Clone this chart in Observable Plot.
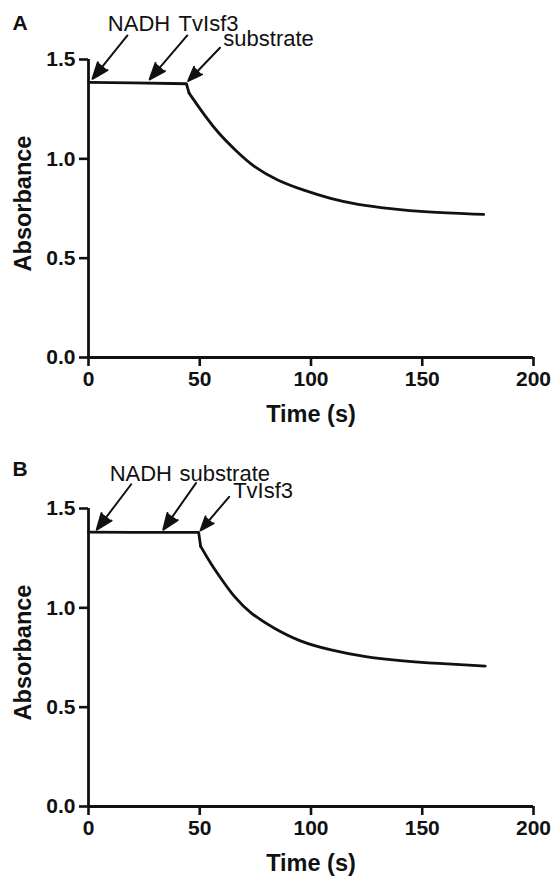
<!DOCTYPE html>
<html>
<head>
<meta charset="utf-8">
<script src="https://cdn.jsdelivr.net/npm/d3@7"></script>
<script src="https://cdn.jsdelivr.net/npm/@observablehq/plot@0.6"></script>
<style>
  html, body { margin: 0; padding: 0; background: #fff; }
  #chart { width: 554px; }
  #chart svg { display: block; }
</style>
</head>
<body>
<div id="chart"></div>
<script>
// ---- Data ----
const xTicks = [0, 50, 100, 150, 200];
const yTicks = [0, 0.5, 1.0, 1.5];

// Panel A: NADH, TvIsf3, then substrate
const timeA = [0, 20, 44, 45.2, 52.7, 58.6, 66.1, 74.3, 84.8, 96.8, 108.8, 120.7, 135.7, 150.6, 177.6];
const absA  = [1.385, 1.382, 1.378, 1.331, 1.210, 1.126, 1.042, 0.958, 0.891, 0.841, 0.799, 0.770, 0.749, 0.732, 0.720];
const dropIndexA = 3;

// Panel B: NADH, substrate, then TvIsf3
const timeB = [0, 20, 49.5, 50.4, 54.9, 60.1, 65.4, 72.8, 83.3, 95.3, 108.8, 123.7, 140.2, 156.6, 178.3];
const absB  = [1.381, 1.380, 1.380, 1.310, 1.223, 1.139, 1.055, 0.971, 0.896, 0.828, 0.787, 0.753, 0.733, 0.720, 0.707];
const dropIndexB = 3;

// Annotation labels (text, anchor time, anchor absorbance)
const labelTextA = ["NADH", "TvIsf3", "substrate"];
const labelTimeA = [8.7, 40.5, 60.6];
const labelAbsA  = [1.641, 1.641, 1.566];
const labelTextB = ["NADH", "substrate", "TvIsf3"];
const labelTimeB = [9.5, 40.9, 65.0];
const labelAbsB  = [1.637, 1.637, 1.552];

// Annotation arrows (from time/abs to time/abs)
const arrowA = {t1: [17.5, 44.4, 59.1], v1: [1.621, 1.621, 1.559], t2: [1.8, 27.5, 44.8], v2: [1.403, 1.400, 1.392]};
const arrowB = {t1: [19.2, 48.3, 63.2], v1: [1.622, 1.628, 1.559], t2: [3.7, 33.6, 50.4], v2: [1.393, 1.393, 1.390]};

const FONT = "'Liberation Sans', Arial, Helvetica, sans-serif";

function panel(letter, time, abs, drop, lText, lTime, lAbs, arr, height, marginBottom, letterDy) {
  const series = time.map((t, i) => ({t, v: abs[i], i}));
  const plateau = series.filter(d => d.i <= drop);
  const decay = series.filter(d => d.i >= drop);
  const labels = lText.map((s, i) => ({s, t: lTime[i], v: lAbs[i]}));
  const arrows = arr.t1.map((_, i) => ({x1: arr.t1[i], y1: arr.v1[i], x2: arr.t2[i], y2: arr.v2[i]}));
  return Plot.plot({
    width: 554,
    height,
    marginLeft: 88,
    marginRight: 21,
    marginTop: 59,
    marginBottom,
    style: {fontFamily: FONT, color: "#111", background: "#fff", overflow: "visible"},
    x: {domain: [0, 200]},
    y: {domain: [0, 1.5]},
    marks: [
      Plot.axisX({ticks: xTicks, tickFormat: d3.format("d"), tickSize: 9, tickPadding: 5, strokeWidth: 2.6, fontSize: 21, fontWeight: "bold", label: null}),
      Plot.axisY({ticks: yTicks, tickFormat: d3.format(".1f"), tickSize: 9, tickPadding: 4, strokeWidth: 2.6, fontSize: 21, fontWeight: "bold", label: null}),
      Plot.ruleY([0], {strokeWidth: 2.8}),
      Plot.ruleX([0], {strokeWidth: 2.8}),
      Plot.line(plateau, {x: "t", y: "v", curve: "linear", strokeWidth: 2.8, stroke: "#111"}),
      Plot.line(decay, {x: "t", y: "v", curve: "basis", strokeWidth: 2.8, stroke: "#111"}),
      Plot.arrow(arrows, {x1: "x1", y1: "y1", x2: "x2", y2: "y2", strokeWidth: 2, headLength: 13, headAngle: 42, fill: "#111", stroke: "#111", strokeLinejoin: "miter"}),
      Plot.text(labels, {x: "t", y: "v", text: "s", textAnchor: "start", lineAnchor: "bottom", fontSize: 22, fontWeight: "normal", fill: "#111"}),
      Plot.text(["Time (s)"], {frameAnchor: "bottom", textAnchor: "middle", lineAnchor: "bottom", dy: 64, fontSize: 23.5, fontWeight: "bold", fill: "#111"}),
      Plot.text(["Absorbance"], {frameAnchor: "left", textAnchor: "middle", lineAnchor: "middle", rotate: -90, dx: -65, dy: -5, fontSize: 23.5, fontWeight: "bold", fill: "#111"}),
      Plot.text([letter], {frameAnchor: "top-left", textAnchor: "start", lineAnchor: "bottom", dx: -76, dy: letterDy, fontSize: 21, fontWeight: "bold", fill: "#111"})
    ]
  });
}

const chart = document.getElementById("chart");
chart.appendChild(panel("A", timeA, absA, dropIndexA, labelTextA, labelTimeA, labelAbsA, arrowA, 449, 92, -30));
chart.appendChild(panel("B", timeB, absB, dropIndexB, labelTextB, labelTimeB, labelAbsB, arrowB, 428, 71, -33));
</script>
</body>
</html>
